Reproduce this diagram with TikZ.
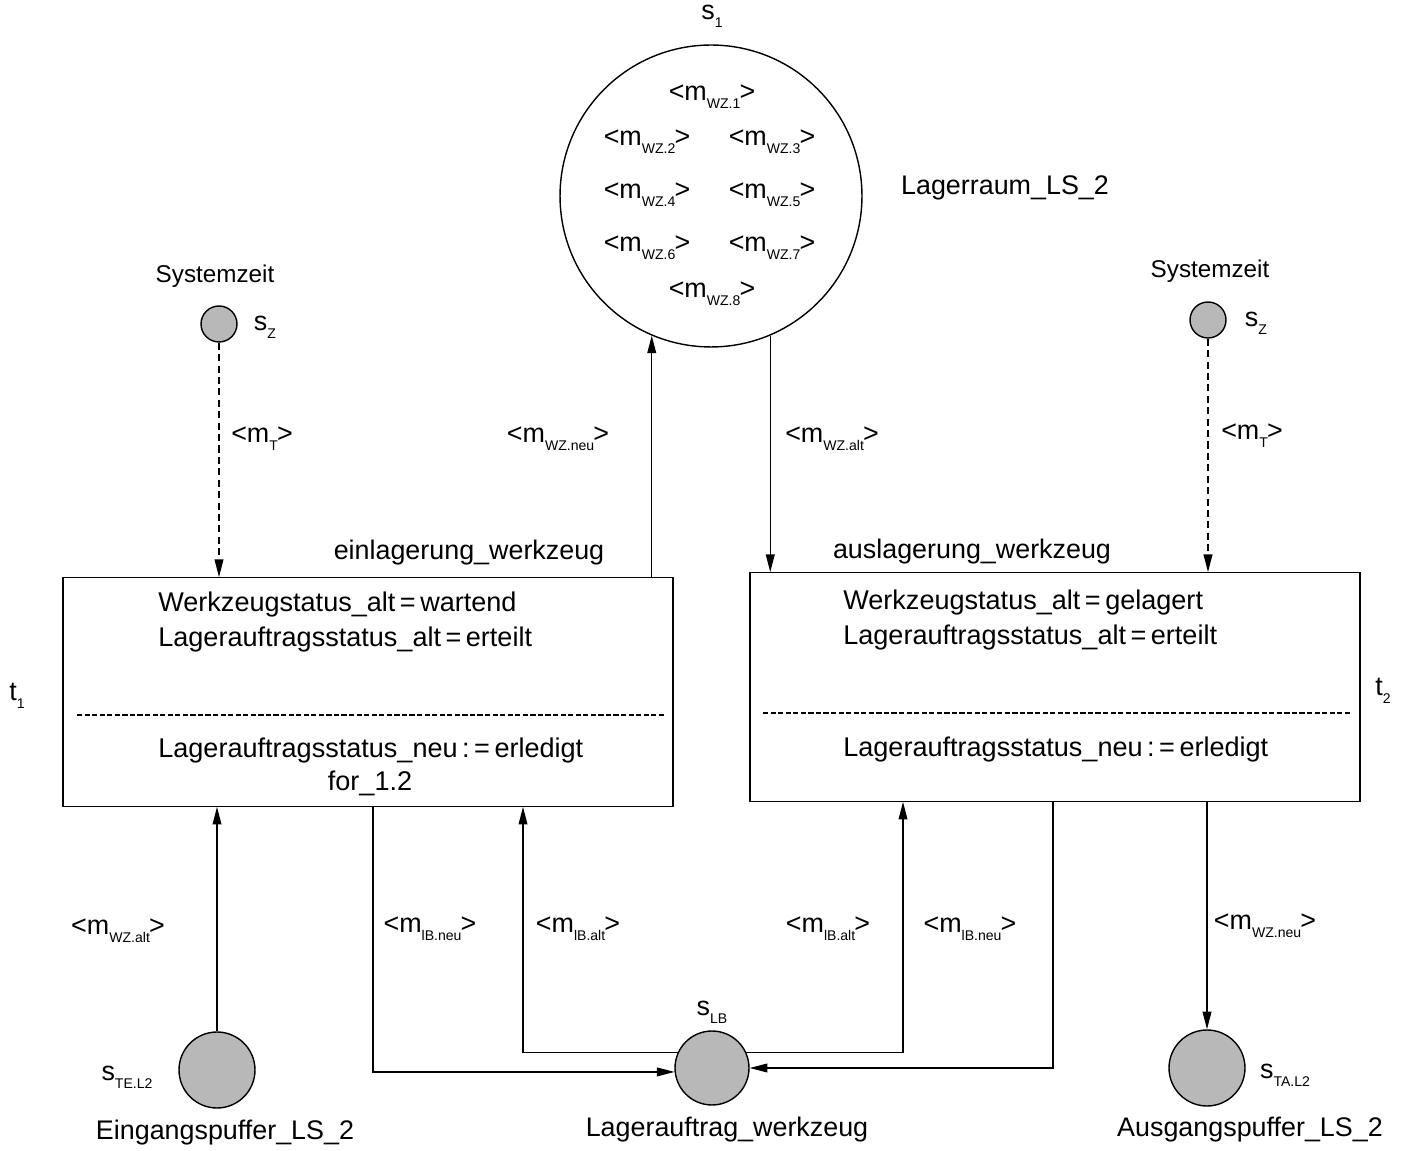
\documentclass[tikz,border=0pt]{standalone}
\usepackage{fontspec}
\setmainfont{Liberation Sans}
\usetikzlibrary{arrows.meta}
\newcommand\lowsub[1]{\raisebox{-0.55ex}{\fontsize{8}{9}\selectfont #1}}
\newcommand\msg[1]{<m\lowsub{#1}\kern-0.5pt>}
\begin{document}
\begin{tikzpicture}[x=0.02cm,y=-0.02cm,
  every node/.style={font=\fontsize{15.3}{18}\selectfont},
  lbl/.style={inner sep=1pt},
  clocklbl/.style={inner sep=1pt,font=\fontsize{13.8}{16}\selectfont},
  boxtext/.style={anchor=west,inner sep=0pt,font=\fontsize{15.4}{18}\selectfont},
  transbox/.style={draw,line width=0.8pt,minimum width=12.2cm,minimum height=4.57cm,inner sep=0pt},
  store/.style={draw,circle,line width=0.8pt,inner sep=0pt},
  buffer/.style={store,fill=black!28,minimum size=1.52cm},
  clock/.style={store,fill=black!28,minimum size=0.72cm},
  flow/.style={line width=0.7pt,-{Triangle[length=10pt,width=5pt]}},
  timeflow/.style={flow,dash pattern=on 4pt off 2.5pt},
  sep/.style={line width=0.8pt,dash pattern=on 3pt off 1.3pt}]
\useasboundingbox (0,0) rectangle (1404,1151);

% storage place s1 with its tool marks
\node[store,minimum size=6.04cm] (s1) at (711,196) {};
\node[lbl] (s1n) at (712,16) {s\lowsub{1}};
\node[lbl] (w1) at (712,97) {\msg{WZ.1}};
\node[lbl] (w2) at (647,142) {\msg{WZ.2}};
\node[lbl] (w3) at (772,142) {\msg{WZ.3}};
\node[lbl] (w4) at (647,195) {\msg{WZ.4}};
\node[lbl] (w5) at (772,195) {\msg{WZ.5}};
\node[lbl] (w6) at (647,248) {\msg{WZ.6}};
\node[lbl] (w7) at (772,248) {\msg{WZ.7}};
\node[lbl] (w8) at (712,294) {\msg{WZ.8}};
\node[lbl] (s1t) at (1005,188) {Lagerraum\_LS\_2};

% system clocks
\node[clocklbl] (szt1) at (215,276) {Systemzeit};
\node[clock] (sz1) at (219,324) {};
\node[lbl] (szn1) at (265,327) {s\lowsub{Z}};
\node[clocklbl] (szt2) at (1210,271) {Systemzeit};
\node[clock] (sz2) at (1208,320) {};
\node[lbl] (szn2) at (1256,323) {s\lowsub{Z}};

% transition t1
\node[transbox] (t1) at (368,692) {};
\node[lbl] (t1n) at (17,696) {t\lowsub{1}};
\node[lbl] (t1t) at (469,553) {einlagerung\_werkzeug};
\draw[sep] (77,715) -- (665,715);
\node[boxtext] (t1a) at (158,605) {Werkzeugstatus\_alt\,=\,wartend};
\node[boxtext] (t1b) at (158,640) {Lagerauftragsstatus\_alt\,=\,erteilt};
\node[boxtext] (t1c) at (158,751) {Lagerauftragsstatus\_neu\,:\,=\,erledigt};
\node[inner sep=0pt,font=\fontsize{15.4}{18}\selectfont] (t1d) at (370,783) {for\_1.2};

% transition t2
\node[transbox] (t2) at (1055,687) {};
\node[lbl] (t2n) at (1383,691) {t\lowsub{2}};
\node[lbl] (t2t) at (972,552) {auslagerung\_werkzeug};
\draw[sep] (763,713) -- (1352,713);
\node[boxtext] (t2a) at (843,603) {Werkzeugstatus\_alt\,=\,gelagert};
\node[boxtext] (t2b) at (843,638) {Lagerauftragsstatus\_alt\,=\,erteilt};
\node[boxtext] (t2c) at (843,750) {Lagerauftragsstatus\_neu\,:\,=\,erledigt};

% buffers and order store
\node[buffer] (ste) at (217,1070) {};
\node[lbl] (sten) at (127,1077) {s\lowsub{TE.L2}};
\node[lbl] (stet) at (225,1133) {Eingangspuffer\_LS\_2};
\node[buffer,minimum size=1.48cm] (slb) at (712,1068) {};
\node[lbl] (slbn) at (712,1012) {s\lowsub{LB}};
\node[lbl] (slbt) at (727,1130) {Lagerauftrag\_werkzeug};
\node[buffer] (sta) at (1207,1068) {};
\node[lbl] (stan) at (1285,1075) {s\lowsub{TA.L2}};
\node[lbl] (stat) at (1250,1130) {Ausgangspuffer\_LS\_2};

% columns of the connectors
\coordinate (ca) at (373,0);
\coordinate (cb) at (523,0);
\coordinate (cc) at (903,0);
\coordinate (cd) at (1053,0);

% connectors
\draw[timeflow] (sz1) -- (sz1 |- t1.north);
\draw[timeflow] (sz2) -- (sz2 |- t2.north);
\node[lbl] (mt1) at (262,439) {\msg{T}};
\node[lbl] (mt2) at (1252,436) {\msg{T}};

\draw[flow] (s1.247 |- t1.north) -- (s1.247);
\node[lbl] (m1) at (558,439) {\msg{WZ.neu}};
\draw[flow] (s1.293) -- (s1.293 |- t2.north);
\node[lbl] (m2) at (832,439) {\msg{WZ.alt}};

\draw[flow] (ste) -- (ste |- t1.south);
\node[lbl] (m3) at (118,931) {\msg{WZ.alt}};
\draw[flow] (t2.south -| sta) -- (sta);
\node[lbl] (m4) at (1265,926) {\msg{WZ.neu}};

\draw[flow] (t1.south -| ca) |- (slb.186);
\node[lbl] (m5) at (430,929) {\msg{lB.neu}};
\draw[flow] (slb.156) -| (t1.south -| cb);
\node[lbl] (m6) at (578,929) {\msg{lB.alt}};
\draw[flow] (slb.24) -| (t2.south -| cc);
\node[lbl] (m7) at (828,929) {\msg{lB.alt}};
\draw[flow] (t2.south -| cd) |- (slb.0);
\node[lbl] (m8) at (970,929) {\msg{lB.neu}};
\end{tikzpicture}
\end{document}
